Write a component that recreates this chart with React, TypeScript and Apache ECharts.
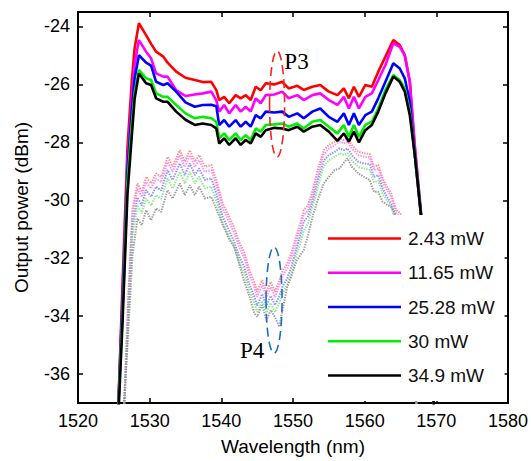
import React, { useEffect, useRef } from "react";
import * as echarts from "echarts";

// ---------- data ----------
const powers = ["2.43 mW", "11.65 mW", "25.28 mW", "30 mW", "34.9 mW"];
const xTicks = [1520, 1530, 1540, 1550, 1560, 1570, 1580];
const yTicks = [-36, -34, -32, -30, -28, -26, -24];

// solid curves (upper group, P3)
const xSolid = [1525.6, 1526.2, 1526.9, 1527.5, 1527.9, 1528.5, 1529.5, 1530.2, 1530.9, 1531.9, 1532.5, 1533.7, 1535.0, 1536.3, 1537.4, 1538.6, 1539.3, 1539.7, 1540.4, 1541.1, 1542.0, 1542.7, 1543.4, 1544.1, 1544.8, 1545.5, 1546.2, 1547.4, 1548.5, 1549.4, 1550.6, 1551.5, 1552.7, 1553.8, 1555.0, 1556.2, 1557.1, 1557.8, 1558.5, 1559.2, 1560.1, 1561.0, 1561.9, 1562.9, 1564.0, 1564.9, 1565.6, 1566.3, 1567.0, 1567.9, 1568.8, 1569.7];
const solidRed = [-37.3, -33.0, -28.2, -25.9, -24.75, -23.89, -24.3, -24.6, -24.87, -25.04, -25.25, -25.56, -25.77, -25.85, -25.92, -25.91, -26.2, -26.54, -26.43, -26.65, -26.37, -26.48, -26.37, -26.54, -26.08, -26.2, -25.96, -26.0, -25.91, -26.14, -26.05, -26.19, -26.08, -26.02, -26.25, -26.37, -26.14, -26.48, -26.08, -26.43, -26.02, -26.08, -25.56, -25.04, -24.47, -24.64, -24.99, -25.91, -28.2, -30.6, -33.8, -37.3];
const solidMagenta = [-37.3, -33.3, -28.7, -26.5, -25.3, -24.47, -24.87, -25.1, -25.62, -25.73, -25.73, -26.2, -26.4, -26.35, -26.31, -26.25, -26.55, -26.94, -26.71, -27.0, -26.71, -26.94, -26.77, -26.94, -26.48, -26.65, -26.37, -26.35, -26.25, -26.48, -26.37, -26.54, -26.37, -26.31, -26.54, -26.71, -26.43, -26.83, -26.43, -26.83, -26.43, -26.31, -25.85, -25.33, -24.58, -24.7, -25.0, -25.9, -28.1, -30.5, -33.6, -37.3];
const solidBlue = [-37.3, -33.6, -29.0, -26.9, -25.8, -24.99, -25.25, -25.35, -25.91, -26.02, -25.96, -26.25, -26.62, -26.77, -26.71, -26.7, -26.75, -27.4, -27.23, -27.46, -27.23, -27.46, -27.29, -27.46, -27.06, -27.17, -26.94, -26.97, -26.94, -27.12, -27.0, -27.17, -26.94, -26.83, -27.12, -27.29, -27.0, -27.4, -27.0, -27.4, -27.06, -26.94, -26.48, -25.91, -25.27, -25.45, -25.79, -26.6, -28.44, -30.6, -33.7, -37.3];
const solidGreen = [-37.3, -34.0, -29.4, -27.4, -26.3, -25.5, -25.79, -25.85, -26.31, -26.43, -26.43, -26.71, -27.0, -27.17, -27.12, -27.17, -27.29, -27.86, -27.69, -27.92, -27.69, -27.92, -27.75, -27.92, -27.52, -27.63, -27.4, -27.38, -27.35, -27.46, -27.35, -27.52, -27.29, -27.23, -27.46, -27.69, -27.4, -27.81, -27.4, -27.81, -27.4, -27.29, -26.83, -26.19, -25.68, -25.85, -26.14, -26.94, -28.44, -30.6, -33.7, -37.3];
const solidBlack = [-37.6, -34.3, -29.8, -27.8, -26.5, -25.62, -25.96, -26.02, -26.48, -26.6, -26.6, -26.94, -27.22, -27.4, -27.35, -27.4, -27.52, -28.04, -27.86, -28.09, -27.86, -28.09, -27.92, -28.04, -27.69, -27.81, -27.58, -27.5, -27.52, -27.58, -27.46, -27.63, -27.46, -27.4, -27.63, -27.95, -27.69, -27.98, -27.63, -28.0, -27.58, -27.4, -26.94, -26.31, -25.73, -25.91, -26.25, -27.06, -28.44, -30.6, -33.7, -37.3];

// dotted curves (lower group, P4)
const xDotted = [1526.4, 1527.0, 1527.6, 1528.3, 1528.9, 1529.5, 1530.2, 1530.9, 1531.6, 1532.5, 1533.2, 1534.2, 1534.9, 1535.6, 1536.3, 1536.9, 1537.7, 1538.6, 1539.3, 1540.2, 1541.1, 1541.8, 1542.5, 1543.2, 1543.9, 1544.6, 1545.0, 1545.7, 1546.3, 1546.9, 1547.5, 1548.1, 1548.6, 1549.2, 1549.8, 1550.5, 1551.0, 1551.5, 1552.1, 1552.8, 1553.5, 1554.3, 1555.0, 1555.8, 1556.5, 1557.1, 1557.6, 1558.2, 1559.1, 1559.9, 1560.7, 1561.3, 1561.9, 1562.5, 1563.1, 1563.7, 1564.4, 1565.0, 1565.8, 1566.5, 1567.3];
const dottedRed = [-37.3, -33.4, -30.3, -29.42, -29.71, -29.19, -29.42, -29.07, -29.2, -28.5, -28.84, -28.27, -28.67, -28.27, -28.67, -28.44, -28.84, -28.78, -29.3, -30.11, -30.57, -30.95, -31.45, -31.8, -32.4, -32.82, -33.16, -32.76, -33.16, -32.82, -33.16, -32.76, -32.41, -32.18, -31.8, -31.2, -30.8, -30.34, -30.17, -29.6, -28.9, -28.27, -28.09, -27.98, -27.86, -27.92, -27.86, -28.09, -28.32, -28.38, -28.4, -28.84, -28.78, -29.24, -29.53, -29.76, -30.34, -30.45, -31.8, -34.0, -37.3];
const dottedMagenta = [-37.3, -33.6, -30.5, -29.6, -29.89, -29.37, -29.6, -29.25, -29.38, -28.68, -29.02, -28.45, -28.85, -28.45, -28.85, -28.62, -29.02, -28.96, -29.48, -30.29, -30.75, -31.13, -31.63, -31.98, -32.58, -33.0, -33.34, -32.94, -33.34, -33.0, -33.34, -32.94, -32.59, -32.36, -31.98, -31.38, -30.98, -30.52, -30.35, -29.78, -29.08, -28.42, -28.22, -28.1, -27.98, -28.04, -27.98, -28.21, -28.44, -28.5, -28.52, -28.96, -28.9, -29.36, -29.65, -29.88, -30.46, -30.57, -31.95, -34.1, -37.3];
const dottedBlue = [-37.3, -33.9, -30.9, -29.9, -30.18, -29.65, -29.88, -29.53, -29.66, -28.96, -29.3, -28.73, -29.13, -28.73, -29.13, -28.9, -29.3, -29.24, -29.77, -30.58, -31.05, -31.43, -31.94, -32.3, -32.9, -33.32, -33.64, -33.24, -33.64, -33.3, -33.62, -33.3, -32.95, -32.7, -32.28, -31.65, -31.22, -30.74, -30.56, -29.98, -29.28, -28.63, -28.44, -28.33, -28.21, -28.27, -28.21, -28.44, -28.67, -28.73, -28.75, -29.19, -29.13, -29.59, -29.88, -30.11, -30.69, -30.8, -32.2, -34.2, -37.3];
const dottedGreen = [-37.3, -34.1, -31.2, -30.17, -30.46, -29.94, -30.17, -29.82, -29.95, -29.25, -29.59, -29.02, -29.42, -29.02, -29.42, -29.19, -29.59, -29.53, -30.02, -30.8, -31.25, -31.62, -32.13, -32.5, -33.1, -33.55, -33.86, -33.48, -33.88, -33.55, -33.86, -33.55, -33.2, -32.9, -32.5, -31.88, -31.5, -31.05, -30.8, -30.18, -29.5, -28.82, -28.62, -28.5, -28.38, -28.44, -28.38, -28.62, -28.85, -28.9, -28.95, -29.38, -29.32, -29.78, -30.0, -30.22, -30.86, -31.0, -32.4, -34.3, -37.3];
const dottedGray = [-37.3, -34.6, -31.9, -30.63, -30.86, -30.34, -30.69, -30.28, -30.4, -29.65, -29.94, -29.42, -29.82, -29.48, -29.82, -29.53, -29.94, -29.88, -30.3, -30.85, -31.35, -31.6, -32.2, -32.8, -33.3, -33.9, -34.02, -33.62, -34.14, -33.79, -34.05, -34.37, -33.7, -32.99, -32.6, -32.1, -31.9, -31.72, -31.2, -30.5, -29.95, -29.42, -29.19, -28.96, -28.9, -28.7, -28.55, -28.84, -29.07, -29.19, -29.3, -29.71, -29.71, -30.05, -30.15, -30.23, -30.51, -30.9, -32.5, -34.5, -37.3];

// ---------- styles ----------
const solidColors = ["#ff0000", "#ff00ff", "#0000ff", "#00ee00", "#000000"];
const dottedColors = ["#ff7a7a", "#ff7aff", "#7a7aff", "#7ae07a", "#8a8a8a"];
const SANS = '"Liberation Sans", Arial, sans-serif';
const SERIF = '"Liberation Serif", "Times New Roman", serif';

export default function App() {
  const ref = useRef<HTMLDivElement>(null);

  useEffect(() => {
    document.body.style.margin = "0";
    if (!ref.current) return;
    const chart = echarts.init(ref.current, undefined, { renderer: "svg" });

    const solidYs = [solidRed, solidMagenta, solidBlue, solidGreen, solidBlack];
    const dottedYs = [dottedRed, dottedMagenta, dottedBlue, dottedGreen, dottedGray];

    const dottedSeries = dottedYs.map((ys, i) => ({
      type: "line",
      name: powers[i] + " (P4)",
      data: xDotted.map((x, j) => [x, ys[j]]),
      symbol: "none",
      showSymbol: false,
      clip: true,
      z: 2,
      lineStyle: { color: dottedColors[i], width: 2, type: [1.4, 1.2], opacity: 0.85 },
      itemStyle: { color: dottedColors[i] },
    }));
    const solidSeries = solidYs.map((ys, i) => ({
      type: "line",
      name: powers[i],
      data: xSolid.map((x, j) => [x, ys[j]]),
      symbol: "none",
      showSymbol: false,
      clip: true,
      z: 3,
      lineStyle: { color: solidColors[i], width: 2.6 },
      itemStyle: { color: solidColors[i] },
    }));

    const axisLine = { show: true, onZero: false, lineStyle: { color: "#000", width: 2 } };
    const axisTick = { show: true, inside: true, length: 5, lineStyle: { color: "#000", width: 1.5 } };

    chart.setOption({
      animation: false,
      backgroundColor: "#fff",
      grid: { left: 78, right: 21, top: 12, bottom: 57, containLabel: false },
      xAxis: [
        {
          type: "value", min: 1520, max: 1580, interval: 10, position: "bottom",
          axisLine, axisTick: { ...axisTick, customValues: xTicks },
          axisLabel: {
            customValues: xTicks, fontSize: 18, color: "#000", margin: 9, fontFamily: SANS,
            formatter: (v: number) => String(v),
          },
          splitLine: { show: false },
          name: "Wavelength (nm)", nameLocation: "middle", nameGap: 34,
          nameTextStyle: { fontSize: 19, color: "#000", fontFamily: SANS },
        },
        {
          type: "value", min: 1520, max: 1580, interval: 10, position: "top",
          axisLine, axisTick: { ...axisTick, customValues: xTicks },
          axisLabel: { show: false }, splitLine: { show: false },
        },
      ],
      yAxis: [
        {
          type: "value", min: -37, max: -23.5, position: "left",
          axisLine, axisTick: { ...axisTick, customValues: yTicks },
          axisLabel: {
            customValues: yTicks, fontSize: 18, color: "#000", margin: 8, fontFamily: SANS,
            formatter: (v: number) => String(v),
          },
          splitLine: { show: false },
          name: "Output power (dBm)", nameLocation: "middle", nameGap: 47,
          nameTextStyle: { fontSize: 19, color: "#000", fontFamily: SANS },
        },
        {
          type: "value", min: -37, max: -23.5, position: "right",
          axisLine, axisTick: { ...axisTick, customValues: yTicks },
          axisLabel: { show: false }, splitLine: { show: false },
        },
      ],
      legend: {
        data: powers,
        orient: "vertical",
        left: 322,
        top: 215,
        padding: [14, 10, 16, 6],
        itemGap: 15.25,
        itemWidth: 73,
        itemHeight: 2.5,
        icon: "rect",
        backgroundColor: "#fff",
        selectedMode: false,
        textStyle: { fontSize: 19, color: "#111", fontFamily: SANS, lineHeight: 19, padding: [0, 0, 0, 2] },
      },
      series: [...dottedSeries, ...solidSeries],
    });

    const px = (x: number, y: number) =>
      chart.convertToPixel({ xAxisIndex: 0, yAxisIndex: 0 }, [x, y]) as number[];
    const e1 = px(1547.78, -26.68);
    const e2 = px(1547.36, -33.45);
    const t3 = px(1550.49, -25.22);
    const t4 = px(1544.31, -35.18);

    chart.setOption({
      graphic: [
        {
          type: "ellipse", z: 10,
          shape: { cx: e1[0], cy: e1[1], rx: 7.5, ry: 53 },
          style: { fill: "none", stroke: "#ff2020", lineWidth: 1.6, lineDash: [9, 5] },
        },
        {
          type: "ellipse", z: 10,
          shape: { cx: e2[0], cy: e2[1], rx: 8, ry: 53 },
          style: { fill: "none", stroke: "#1a6fc4", lineWidth: 1.6, lineDash: [9, 5] },
        },
        {
          type: "text", z: 10, x: t3[0], y: t3[1],
          style: { text: "P3", fontSize: 23, fontFamily: SERIF, fill: "#000", textAlign: "center", textVerticalAlign: "middle", align: "center", verticalAlign: "middle" },
        },
        {
          type: "text", z: 10, x: t4[0], y: t4[1],
          style: { text: "P4", fontSize: 23, fontFamily: SERIF, fill: "#000", textAlign: "center", textVerticalAlign: "middle", align: "center", verticalAlign: "middle" },
        },
      ],
    });

    return () => chart.dispose();
  }, []);

  return (
    <div
      ref={ref}
      style={{ position: "fixed", left: 0, top: 0, width: 531, height: 461, background: "#fff" }}
    />
  );
}
